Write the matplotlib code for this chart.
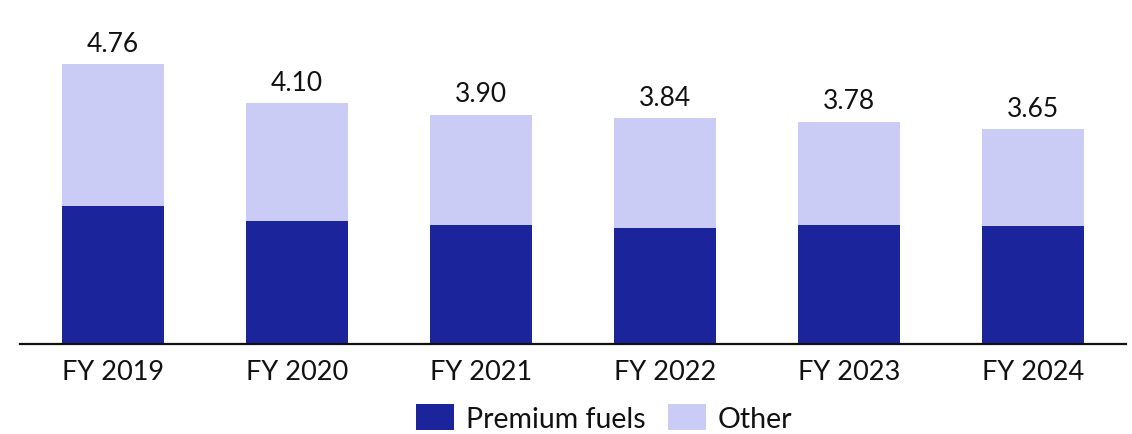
import matplotlib
matplotlib.use("Agg")
import matplotlib.pyplot as plt
import numpy as np

categories = ["FY 2019", "FY 2020", "FY 2021", "FY 2022", "FY 2023", "FY 2024"]
totals = [4.76, 4.10, 3.90, 3.84, 3.78, 3.65]
premium = [2.35, 2.10, 2.03, 1.97, 2.02, 2.01]
other = [t - p for t, p in zip(totals, premium)]
total_labels = ["4.76", "4.10", "3.90", "3.84", "3.78", "3.65"]

dark = "#1B249B"
light = "#CACCF5"

plt.rcParams['font.family'] = ['Lato', 'DejaVu Sans']

W, H = 1132, 435
fig = plt.figure(figsize=(W / 100, H / 100), dpi=100)
ax = fig.add_axes([20 / W, 1 - 345 / H, (1126 - 20) / W, (345 - 10) / H])

x = np.arange(len(categories))
width = 0.554
ax.bar(x, premium, width, color=dark, label="Premium fuels")
ax.bar(x, other, width, bottom=premium, color=light, label="Other")

for xi, t, lab in zip(x, totals, total_labels):
    ax.annotate(lab, (xi, t), xytext=(0, 6), textcoords="offset points",
                ha="center", va="bottom", fontsize=19, color="#111111")

ax.set_xlim(-0.505, 5.505)
ax.set_ylim(0, 335 / 58.8)
ax.set_xticks(x)
ax.set_xticklabels(categories, fontsize=19.5, color="#111111")
ax.tick_params(axis="x", length=0, pad=11)
ax.set_yticks([])
for s in ["top", "right", "left"]:
    ax.spines[s].set_visible(False)
ax.spines["bottom"].set_linewidth(1.6)
ax.spines["bottom"].set_color("#111111")

fig.legend(loc="center", bbox_to_anchor=(604 / W, 1 - 419 / H), ncol=2,
           frameon=False, fontsize=20.5, handlelength=1.35, handleheight=1.0,
           handletextpad=0.4, columnspacing=0.8, labelcolor="#111111")

fig.savefig("out.png", dpi=100)
